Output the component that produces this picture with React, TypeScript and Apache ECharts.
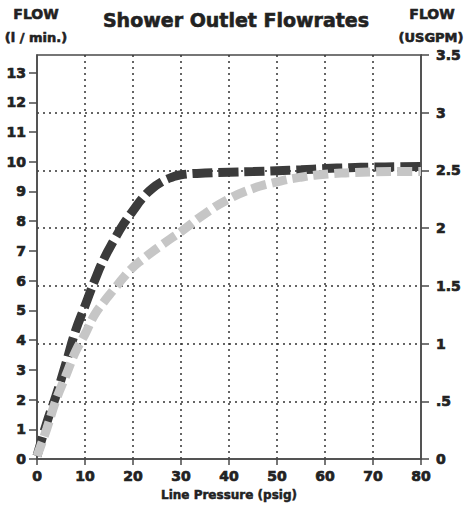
import React, { useEffect, useRef } from "react";
import * as echarts from "echarts";

const pressure = [0, 2, 4, 6, 8, 10, 12, 14, 16, 18, 20, 22, 24, 26, 28, 30, 35, 40, 45, 50, 55, 60, 65, 70, 75, 80];
const darkFlow = [0.1, 1.2, 2.15, 3.2, 4.3, 5.15, 6.0, 6.75, 7.35, 7.9, 8.35, 8.78, 9.1, 9.32, 9.47, 9.56, 9.62, 9.65, 9.67, 9.7, 9.73, 9.77, 9.8, 9.82, 9.83, 9.84];
const lightFlow = [0.1, 1.0, 2.0, 2.8, 3.6, 4.2, 4.85, 5.3, 5.7, 6.1, 6.45, 6.72, 6.97, 7.2, 7.43, 7.65, 8.25, 8.75, 9.1, 9.32, 9.48, 9.58, 9.63, 9.66, 9.67, 9.67];
const leftTicks = [0, 1, 2, 3, 4, 5, 6, 7, 8, 9, 10, 11, 12, 13];
const xTicks = [0, 10, 20, 30, 40, 50, 60, 70, 80];

const FONT = "'DejaVu Sans', Lato, sans-serif";
const AXIS_COLOR = "#4a4a4a";
const TEXT_COLOR = "#222";

export default function App() {
  const ref = useRef<HTMLDivElement>(null);
  useEffect(() => {
    if (!ref.current) return;
    const chart = echarts.init(ref.current, null, { renderer: "svg" });
    const dotted = { type: [2, 4] as any, color: "#333", width: 1.5 };
    const lbl = {
      fontFamily: FONT,
      fontWeight: "bold",
      fontSize: 14,
      color: TEXT_COLOR,
      textBorderColor: TEXT_COLOR,
      textBorderWidth: 0.7,
    };
    const hdr = (x: number, y: number, text: string, size: number) => ({
      type: "text",
      x,
      y,
      style: { text, align: "center", font: `bold ${size}px ${FONT}`, fill: TEXT_COLOR, stroke: TEXT_COLOR, lineWidth: 0.6 },
    });
    chart.setOption({
      animation: false,
      backgroundColor: "#fff",
      textStyle: { fontFamily: FONT },
      grid: {
        left: 37,
        right: 48,
        top: 55,
        bottom: 50,
        show: true,
        borderColor: AXIS_COLOR,
        borderWidth: 1.5,
        backgroundColor: "transparent",
      },
      graphic: [
        hdr(236, 10, "Shower Outlet Flowrates", 19),
        hdr(36, 7, "FLOW", 14),
        hdr(36, 31, "(l / min.)", 13),
        hdr(432, 7, "FLOW", 14),
        hdr(431, 31, "(USGPM)", 13),
      ],
      xAxis: {
        type: "value",
        min: 0,
        max: 80,
        interval: 10,
        name: "Line Pressure (psig)",
        nameLocation: "middle",
        nameGap: 29,
        nameTextStyle: { fontFamily: FONT, fontWeight: "bold", fontSize: 12, color: TEXT_COLOR, textBorderColor: TEXT_COLOR, textBorderWidth: 0.5 },
        axisLine: { lineStyle: { color: AXIS_COLOR, width: 1.5 } },
        axisTick: { show: true, length: 6, lineStyle: { color: AXIS_COLOR, width: 1.5 }, customValues: xTicks },
        axisLabel: { ...lbl, margin: 10, customValues: xTicks },
        splitLine: { show: true, showMinLine: false, showMaxLine: false, lineStyle: dotted },
      },
      yAxis: [
        {
          type: "value",
          position: "left",
          min: 0,
          max: 13.59,
          interval: 1,
          axisLine: { show: true, lineStyle: { color: AXIS_COLOR, width: 1.5 } },
          axisTick: { show: true, length: 8, lineStyle: { color: AXIS_COLOR, width: 1.5 }, customValues: leftTicks },
          axisLabel: { ...lbl, margin: 11, customValues: leftTicks },
          splitLine: { show: false },
        },
        {
          type: "value",
          position: "right",
          min: 0,
          max: 3.5,
          interval: 0.5,
          axisLine: { show: true, lineStyle: { color: AXIS_COLOR, width: 1.5 } },
          axisTick: { show: true, length: 8, lineStyle: { color: AXIS_COLOR, width: 1.5 } },
          axisLabel: {
            ...lbl,
            margin: 15,
            formatter: (v: number) => (v === 0 ? "0" : v < 1 ? String(v).replace(/^0/, "") : String(v)),
          },
          splitLine: { show: true, showMinLine: false, showMaxLine: false, lineStyle: dotted },
        },
      ],
      series: [
        {
          type: "line",
          yAxisIndex: 0,
          data: pressure.map((p, i) => [p, darkFlow[i]]),
          smooth: 0.5,
          showSymbol: false,
          lineStyle: { color: "#3b3b3b", width: 9, type: [20, 6], cap: "butt" },
          z: 3,
        },
        {
          type: "line",
          yAxisIndex: 0,
          data: pressure.map((p, i) => [p, lightFlow[i]]),
          smooth: 0.5,
          showSymbol: false,
          lineStyle: { color: "#c6c6c6", width: 9, type: [15, 6], cap: "butt" },
          z: 4,
        },
      ],
    });
    return () => chart.dispose();
  }, []);
  return <div ref={ref} style={{ width: 469, height: 509, position: "absolute", left: 0, top: 0 }} />;
}
